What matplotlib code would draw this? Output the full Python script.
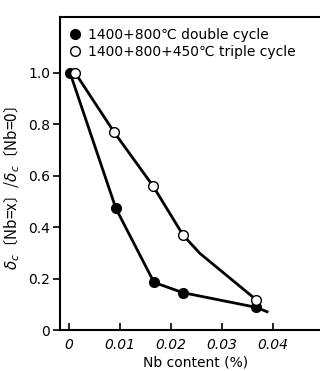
import numpy as np
import matplotlib.pyplot as plt

plt.rcParams['font.family'] = ['DejaVu Sans', 'Noto Sans CJK JP']

# 1400+800C double cycle (filled)
nb_double = [0.0002, 0.0092, 0.0167, 0.0224, 0.0368]
ratio_double = [1.0, 0.473, 0.185, 0.145, 0.088]
# drawn curve (extends a little past the last point)
curve_double_x = [0.0002, 0.0092, 0.0167, 0.0224, 0.0368, 0.0389]
curve_double_y = [1.0, 0.473, 0.185, 0.145, 0.088, 0.071]

# 1400+800+450C triple cycle (open)
nb_triple = [0.0012, 0.0089, 0.0165, 0.0224, 0.0368]
ratio_triple = [1.0, 0.768, 0.56, 0.369, 0.117]
curve_triple_x = [0.0012, 0.0089, 0.0165, 0.0224, 0.0257, 0.0368]
curve_triple_y = [1.0, 0.768, 0.56, 0.369, 0.298, 0.117]

xticks = [0, 0.01, 0.02, 0.03, 0.04]
xticklabels = ['0', '0.01', '0.02', '0.03', '0.04']
yticks = [0, 0.2, 0.4, 0.6, 0.8, 1.0]
yticklabels = ['0', '0.2', '0.4', '0.6', '0.8', '1.0']

fig = plt.figure(figsize=(3.2, 3.71), dpi=100)
ax = fig.add_axes([0.1875, 0.1105, 0.8125, 0.8445])

ax.plot(curve_double_x, curve_double_y, color='black', lw=2.0, zorder=2)
ax.plot(curve_triple_x, curve_triple_y, color='black', lw=2.0, zorder=2)
ax.plot(nb_double, ratio_double, 'o', color='black', ms=7, zorder=3,
        label='1400+800℃ double cycle')
ax.plot(nb_triple, ratio_triple, 'o', mfc='white', mec='black', mew=1.0, ms=7,
        zorder=3, label='1400+800+450℃ triple cycle')

ax.set_xlim(-0.00177, 0.0493)
ax.set_ylim(0, 1.218)
ax.set_xticks(xticks)
ax.set_xticklabels(xticklabels, style='italic', fontsize=10)
ax.set_yticks(yticks)
ax.set_yticklabels(yticklabels, fontsize=10)
ax.tick_params(axis='x', direction='in', length=5, width=1.2, pad=6)
ax.tick_params(axis='y', direction='out', length=5, width=1.2, pad=2)

ax.spines['right'].set_visible(False)
for s in ['left', 'bottom', 'top']:
    ax.spines[s].set_linewidth(1.5)

ax.set_xlabel('Nb content (%)', fontsize=10)
ax.xaxis.set_label_coords(0.52, -0.082)
ax.set_ylabel(r'$\delta_c$〔Nb=x〕/$\delta_c$〔Nb=0〕', fontsize=11,
              family='Noto Sans CJK JP')
ax.yaxis.set_label_coords(-0.145, 0.454)

ax.legend(loc='upper left', frameon=False, fontsize=10, handletextpad=0.4,
          borderaxespad=0.2, labelspacing=0.2, handlelength=1.0,
          bbox_to_anchor=(0.0, 0.99))

plt.savefig('out.png', dpi=100)
